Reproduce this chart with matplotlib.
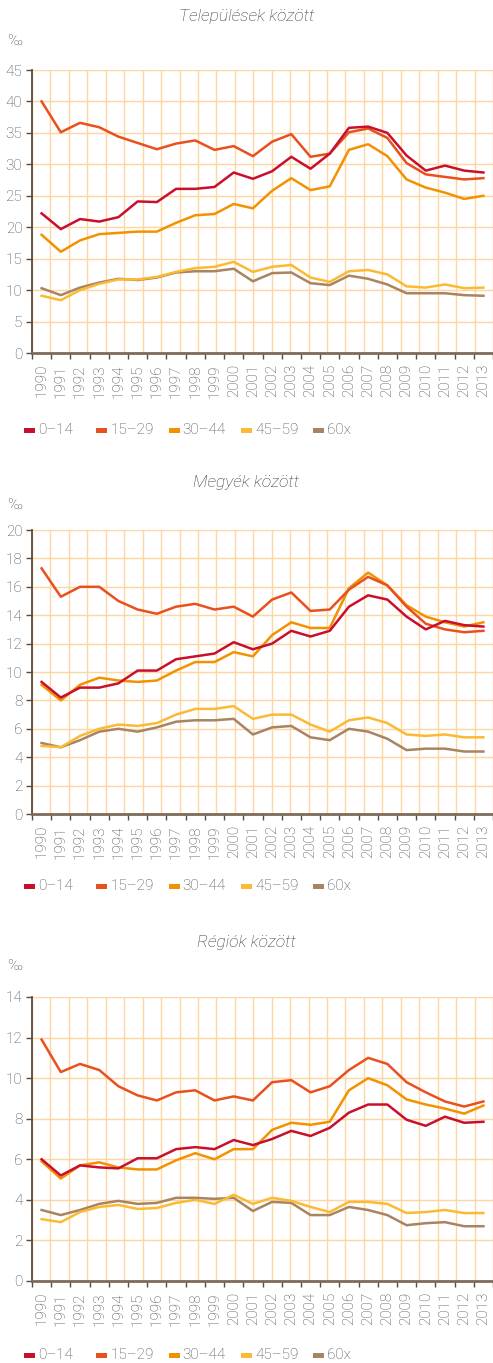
import numpy as np
import matplotlib
matplotlib.use("Agg")
import matplotlib.pyplot as plt
from matplotlib.patches import Rectangle

plt.rcParams['font.family'] = ['Roboto', 'DejaVu Sans']
plt.rcParams['font.weight'] = 'light'

years = [str(y) for y in range(1990, 2014)]
groups = ["0–14", "15–29", "30–44", "45–59", "60x"]
colors = ["#C8102E", "#E8501E", "#F39200", "#FBBA33", "#A88462"]

# Települések között
telep_0_14 = [22.2, 19.7, 21.3, 20.9, 21.6, 24.1, 24.0, 26.1, 26.1, 26.4, 28.7, 27.7,
              28.9, 31.2, 29.3, 31.7, 35.8, 36.0, 35.0, 31.4, 29.0, 29.8, 29.0, 28.7]
telep_15_29 = [40.0, 35.1, 36.6, 35.9, 34.4, 33.4, 32.4, 33.3, 33.8, 32.3, 32.9, 31.3,
               33.6, 34.8, 31.2, 31.7, 35.1, 35.7, 34.2, 30.2, 28.4, 28.0, 27.6, 27.8]
telep_30_44 = [18.8, 16.1, 17.9, 18.9, 19.1, 19.3, 19.3, 20.7, 21.9, 22.1, 23.7, 23.0,
               25.8, 27.8, 25.9, 26.5, 32.3, 33.2, 31.3, 27.6, 26.3, 25.5, 24.5, 25.0]
telep_45_59 = [9.1, 8.4, 10.0, 11.0, 11.7, 11.7, 12.1, 12.9, 13.5, 13.7, 14.5, 12.9,
               13.7, 14.0, 12.0, 11.3, 13.0, 13.2, 12.5, 10.6, 10.4, 10.9, 10.3, 10.4]
telep_60x = [10.3, 9.2, 10.4, 11.2, 11.8, 11.6, 12.0, 12.8, 13.0, 13.0, 13.4, 11.4,
             12.7, 12.8, 11.1, 10.8, 12.3, 11.8, 10.9, 9.5, 9.5, 9.5, 9.2, 9.1]

# Megyék között
megye_0_14 = [9.3, 8.2, 8.9, 8.9, 9.2, 10.1, 10.1, 10.9, 11.1, 11.3, 12.1, 11.6,
              12.0, 12.9, 12.5, 12.9, 14.6, 15.4, 15.1, 13.9, 13.0, 13.6, 13.3, 13.2]
megye_15_29 = [17.3, 15.3, 16.0, 16.0, 15.0, 14.4, 14.1, 14.6, 14.8, 14.4, 14.6, 13.9,
               15.1, 15.6, 14.3, 14.4, 15.8, 16.7, 16.1, 14.6, 13.4, 13.0, 12.8, 12.9]
megye_30_44 = [9.1, 8.0, 9.1, 9.6, 9.4, 9.3, 9.4, 10.1, 10.7, 10.7, 11.4, 11.1,
               12.6, 13.5, 13.1, 13.1, 15.9, 17.0, 16.1, 14.7, 13.9, 13.5, 13.2, 13.5]
megye_45_59 = [4.8, 4.7, 5.5, 6.0, 6.3, 6.2, 6.4, 7.0, 7.4, 7.4, 7.6, 6.7,
               7.0, 7.0, 6.3, 5.8, 6.6, 6.8, 6.4, 5.6, 5.5, 5.6, 5.4, 5.4]
megye_60x = [5.0, 4.7, 5.2, 5.8, 6.0, 5.8, 6.1, 6.5, 6.6, 6.6, 6.7, 5.6,
             6.1, 6.2, 5.4, 5.2, 6.0, 5.8, 5.3, 4.5, 4.6, 4.6, 4.4, 4.4]

# Régiók között
regio_0_14 = [6.0, 5.2, 5.7, 5.6, 5.55, 6.05, 6.05, 6.5, 6.6, 6.5, 6.95, 6.7,
              7.0, 7.4, 7.15, 7.55, 8.3, 8.7, 8.7, 7.95, 7.65, 8.1, 7.8, 7.85]
regio_15_29 = [11.9, 10.3, 10.7, 10.4, 9.6, 9.15, 8.9, 9.3, 9.4, 8.9, 9.1, 8.9,
               9.8, 9.9, 9.3, 9.6, 10.4, 11.0, 10.7, 9.8, 9.3, 8.85, 8.6, 8.85]
regio_30_44 = [5.9, 5.05, 5.7, 5.85, 5.6, 5.5, 5.5, 5.95, 6.3, 6.0, 6.5, 6.5,
               7.45, 7.8, 7.7, 7.85, 9.4, 10.0, 9.65, 8.95, 8.7, 8.5, 8.25, 8.65]
regio_45_59 = [3.05, 2.9, 3.4, 3.65, 3.75, 3.55, 3.6, 3.85, 4.0, 3.8, 4.25, 3.8,
               4.1, 3.95, 3.65, 3.4, 3.9, 3.9, 3.8, 3.35, 3.4, 3.5, 3.35, 3.35]
regio_60x = [3.5, 3.25, 3.5, 3.8, 3.95, 3.8, 3.85, 4.1, 4.1, 4.05, 4.1, 3.45,
             3.9, 3.85, 3.25, 3.25, 3.65, 3.5, 3.25, 2.75, 2.85, 2.9, 2.7, 2.7]

charts = [
    ("Települések között", [telep_0_14, telep_15_29, telep_30_44, telep_45_59, telep_60x], 45, 5),
    ("Megyék között", [megye_0_14, megye_15_29, megye_30_44, megye_45_59, megye_60x], 20, 2),
    ("Régiók között", [regio_0_14, regio_15_29, regio_30_44, regio_45_59, regio_60x], 14, 2),
]

W, H = 493, 1363
fig = plt.figure(figsize=(W / 100, H / 100), dpi=100)

# pixel layout: (axes top, axes bottom, title y, permille y, legend y)
layout = [(70, 353, 17, 41, 430), (530, 814, 482, 505, 886), (997, 1281, 943, 966, 1355)]
ax_left = 32

grid_col = "#FDD6A0"
text_col = "#4a4a4a"
n = len(years)
x = np.arange(n)

for (title, series, ymax, step), (top, bot, ty, py, ly) in zip(charts, layout):
    ax = fig.add_axes([ax_left / W, (H - bot) / H, (W - ax_left) / W, (bot - top) / H])
    ax.set_xlim(-0.5, n - 0.5)
    ax.set_ylim(0, ymax)
    for xv in np.linspace(-0.5, n - 0.5, 26):
        ax.axvline(xv, color=grid_col, lw=1, zorder=0)
    for yv in np.arange(step, ymax + step / 2, step):
        ax.axhline(yv, color=grid_col, lw=1, zorder=0)
    # draw order: 60x at bottom, 0-14 on top
    for vals, c in reversed(list(zip(series, colors))):
        ax.plot(x, vals, color=c, lw=1.8, zorder=3)

    ax.spines['top'].set_visible(False)
    ax.spines['right'].set_visible(False)
    ax.spines['left'].set_color("#5a4a3c")
    ax.spines['left'].set_linewidth(1.3)
    ax.spines['bottom'].set_color("#7d6b5a")
    ax.spines['bottom'].set_linewidth(2)

    ax.set_xticks(np.arange(-0.5, n, 1.0))
    ax.set_xticklabels([])
    ax.set_xticks(x, minor=True)
    ax.set_xticklabels(years, minor=True, rotation=90, fontsize=11, color=text_col)
    ax.tick_params(axis='x', which='major', length=4, width=1, color="#5a4a3c", direction='out')
    ax.tick_params(axis='x', which='minor', length=0, pad=8)

    ax.set_yticks(np.arange(0, ymax + step / 2, step))
    ax.tick_params(axis='y', length=4, width=1, color="#5a4a3c", labelsize=11,
                   labelcolor=text_col, pad=3)

    fig.text(0.5, 1 - ty / H, title, ha='center', va='center', fontsize=12.5,
             style='italic', color="#333333")
    fig.text(7 / W, 1 - py / H, "‰", ha='left', va='center', fontsize=11, color=text_col)

    for i, (g, c) in enumerate(zip(groups, colors)):
        x0 = 24 + 72.3 * i
        fig.add_artist(Rectangle((x0 / W, (H - ly - 2.5) / H), 11 / W, 5 / H,
                                 transform=fig.transFigure, color=c, lw=0))
        fig.text((x0 + 14) / W, 1 - ly / H, g, ha='left', va='center',
                 fontsize=11, color=text_col)

fig.savefig("out.png", dpi=100)
